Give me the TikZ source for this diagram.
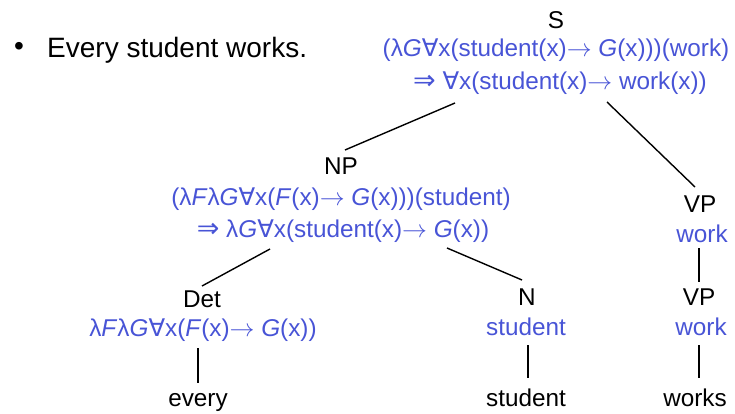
\documentclass[tikz,border=0pt]{standalone}
\usepackage{fontspec}
\setmainfont{Liberation Sans}
\newfontfamily\symf{DejaVu Sans}
\definecolor{sem}{RGB}{72,84,214}
\newcommand{\fa}{{\symf ∀}}
\newcommand{\imp}{{\symf\fontsize{27}{28}\selectfont ⇒}}
\newcommand{\ar}{\ensuremath{\rightarrow}}
\begin{document}
\begin{tikzpicture}[x=1pt,y=-1pt,
  every node/.style={inner sep=0pt,anchor=base,font=\fontsize{24.3}{28}\selectfont},
  cat/.style={text=black},
  semtext/.style={text=sem},
  edge/.style={draw=black,line width=1.4pt}]
\useasboundingbox (0,0) rectangle (735,414);
% bullet and sentence
\node[anchor=center,font=\fontsize{28}{32}\selectfont] (bul) at (19,49) {•};
\node[anchor=base west,font=\fontsize{28}{32}\selectfont] (sent) at (47,58) {Every student works.};
% S
\node[cat] (S) at (556,29) {S};
\node[semtext] (S1) at (556,57) {(λ\textit{G}\fa x(student(x)\ar\ \textit{G}(x)))(work)};
\node[semtext] (S2) at (560,90) {\imp\ \fa x(student(x)\ar\ work(x))};
% NP
\node[cat] (NP) at (341,174) {NP};
\node[semtext] (NP1) at (341,205) {(λ\textit{F}λ\textit{G}\fa x(\textit{F}(x)\ar\ \textit{G}(x)))(student)};
\node[semtext] (NP2) at (343,237) {\imp\ λ\textit{G}\fa x(student(x)\ar\ \textit{G}(x))};
% VP upper
\node[cat] (VP1) at (700,212) {VP};
\node[semtext] (VPs1) at (702,242) {work};
% Det
\node[cat] (Det) at (202,307) {Det};
\node[semtext] (Dets) at (203,336) {λ\textit{F}λ\textit{G}\fa x(\textit{F}(x)\ar\ \textit{G}(x))};
% N
\node[cat] (N) at (527,305) {N};
\node[semtext] (Ns) at (526,335) {student};
% VP lower
\node[cat] (VP2) at (699,305) {VP};
\node[semtext] (VPs2) at (701,335) {work};
% words
\node[cat] (every) at (198,406) {every};
\node[cat] (student) at (526,406) {student};
\node[cat] (works) at (695,406) {works};
% edge endpoints
\coordinate (sL) at (455,103); \coordinate (npT) at (345,150);
\coordinate (sR) at (607,102); \coordinate (vpT) at (695,187);
\coordinate (npL) at (270,249); \coordinate (detT) at (202,286);
\coordinate (npR) at (447,248); \coordinate (nT) at (522,280);
\coordinate (vpA) at (699,248); \coordinate (vpB) at (699,282);
\coordinate (detA) at (198,348); \coordinate (detB) at (198,383);
\coordinate (nA) at (528,345); \coordinate (nB) at (528,378);
\coordinate (vpC) at (699,345); \coordinate (vpD) at (699,378);
\draw[edge] (sL) -- (npT);
\draw[edge] (sR) -- (vpT);
\draw[edge] (npL) -- (detT);
\draw[edge] (npR) -- (nT);
\draw[edge] (vpA) -- (vpB);
\draw[edge] (detA) -- (detB);
\draw[edge] (nA) -- (nB);
\draw[edge] (vpC) -- (vpD);
\end{tikzpicture}
\end{document}
